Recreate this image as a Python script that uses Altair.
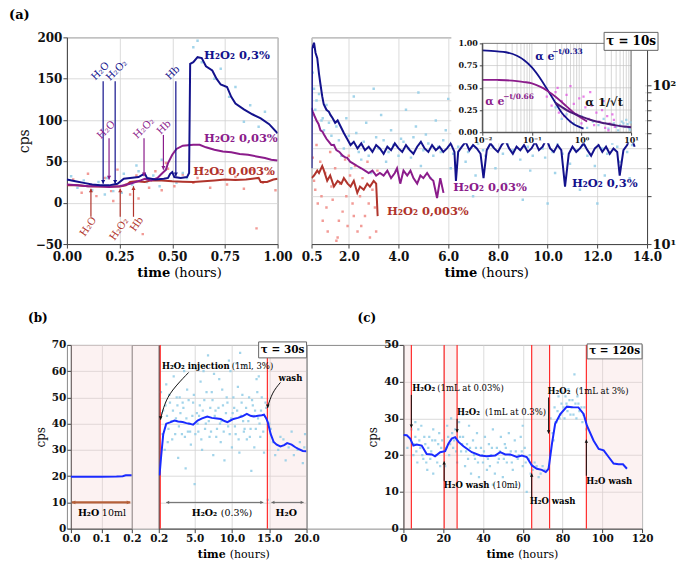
import altair as alt
import pandas as pd

FONT = "DejaVu Serif"
NAVY = "#13128c"
PURPLE = "#8b1c8b"
BRICK = "#b0342c"
LBLUE = "#92cde6"
LRED = "#f08a84"
MAGENTA = "#e04ae0"
TAIL = "#4b1a7a"
BRIGHT = "#1a2bff"
REDLINE = "#ff2b2b"
PINK = "#f5cccc"
GRID = "#d2d2d2"
BROWN = "#b5603a"

ONE = pd.DataFrame({"k": [0]})

# ---------------- data: panel (a) left ----------------
a_blue_x = [0, 0.04, 0.08, 0.12, 0.16, 0.2, 0.24, 0.27, 0.3, 0.34, 0.36, 0.37, 0.38, 0.42, 0.46, 0.48, 0.49, 0.5, 0.51, 0.54, 0.57, 0.58, 0.585, 0.6, 0.62, 0.64, 0.66, 0.69, 0.71, 0.73, 0.76, 0.78, 0.8, 0.84, 0.88, 0.92, 0.96, 1.0]
a_blue_y = [28, 26, 24, 22, 21, 21, 23, 29, 30, 31, 34, 35, 30, 28, 29, 30, 35, 37, 31, 30, 31, 36, 168, 170, 176, 175, 165, 160, 150, 143, 140, 128, 120, 113, 107, 102, 95, 84]
a_purp_x = [0, 0.05, 0.1, 0.15, 0.2, 0.25, 0.3, 0.35, 0.37, 0.4, 0.43, 0.45, 0.47, 0.48, 0.5, 0.52, 0.55, 0.6, 0.63, 0.66, 0.7, 0.74, 0.78, 0.82, 0.86, 0.9, 0.94, 0.97, 1.0]
a_purp_y = [22, 21, 20, 20, 19, 20, 23, 27, 29, 27, 30, 35, 40, 48, 58, 65, 69, 70, 70, 67, 64, 62, 61, 59, 58, 56, 54, 52, 51]
a_red_x = [0, 0.05, 0.1, 0.15, 0.2, 0.25, 0.28, 0.3, 0.33, 0.37, 0.4, 0.45, 0.5, 0.55, 0.6, 0.65, 0.7, 0.75, 0.8, 0.85, 0.88, 0.91, 0.92, 0.95, 0.98, 1.0]
a_red_y = [21, 21, 20, 19.5, 19.5, 19.5, 21, 25, 26, 25, 27, 27, 26, 25.5, 25, 26, 27, 28, 27.5, 28, 29, 30, 25, 25, 28, 29]
a_bdots = [(0.02, 32), (0.05, 18), (0.08, 27), (0.12, 15), (0.15, 25), (0.19, 30), (0.22, 14), (0.27, 35), (0.31, 22), (0.34, 38),
           (0.38, 25), (0.41, 33), (0.44, 20), (0.47, 40), (0.52, 24), (0.55, 36), (0.57, 30), (0.6, 188), (0.62, 196), (0.64, 170),
           (0.67, 180), (0.7, 150), (0.73, 162), (0.77, 128), (0.8, 140), (0.84, 98), (0.87, 118), (0.91, 92), (0.94, 110), (0.97, 80),
           (0.33, 45), (0.45, 52), (0.18, 10), (0.26, 12), (0.58, 70)]
a_rdots = [(0.03, 28), (0.07, 12), (0.1, 35), (0.14, 8), (0.18, 30), (0.21, 14), (0.24, 40), (0.28, 22), (0.3, 10), (0.33, 33),
           (0.36, -38), (0.39, 18), (0.42, 38), (0.45, 15), (0.48, 41), (0.51, 20), (0.55, 34), (0.6, 24), (0.64, 42), (0.68, 18),
           (0.72, 36), (0.76, 22), (0.8, 31), (0.84, 17), (0.88, 40), (0.9, -31), (0.93, 24), (0.96, 35), (0.99, 15), (0.34, 5),
           (0.47, 48), (0.22, 2), (0.62, 30)]
# arrows: x, y_from, y_to, label, label_x, label_y
a_arrows_blue = [(0.172, 147, 23, "H₂O", 0.159, 159), (0.229, 147, 23, "H₂O₂", 0.236, 160), (0.517, 147, 32, "Hb", 0.503, 157)]
a_arrows_purp = [(0.20, 78, 28, "H₂O", 0.187, 88), (0.366, 78, 32, "H₂O₂", 0.366, 90), (0.458, 82, 40, "Hb", 0.461, 91)]
a_arrows_red = [(0.114, -17, 17, "H₂O", 0.101, -29), (0.253, -17, 17, "H₂O₂", 0.248, -32), (0.316, -17, 20, "Hb", 0.332, -26)]

# ---------------- data: panel (a) right ----------------
r_blue_x = [0.5, 0.52, 0.6, 0.66, 0.73, 0.8, 0.86, 0.93, 0.99, 1.1, 1.2, 1.26, 1.35, 1.45, 1.55, 1.67, 1.8, 1.93, 2.07, 2.2, 2.35, 2.5, 2.65, 2.8, 2.95, 3.1, 3.25, 3.4, 3.55, 3.7, 3.85, 4.0, 4.15, 4.3, 4.45, 4.6, 4.75, 4.9, 5.05, 5.2, 5.35, 5.5, 5.65, 5.8, 5.95, 6.1, 6.25, 6.31, 6.4, 6.55, 6.7, 6.85, 7.0, 7.15, 7.3, 7.42, 7.55, 7.7, 7.85, 8.0, 8.15, 8.3, 8.45, 8.6, 8.75, 8.9, 9.05, 9.2, 9.35, 9.5, 9.65, 9.8, 9.95, 10.1, 10.25, 10.4, 10.55, 10.7, 10.85, 11.0, 11.15, 11.3, 11.45, 11.6, 11.75, 11.9, 12.05, 12.2, 12.35, 12.5, 12.65, 12.8, 12.9, 13.05, 13.2, 13.35, 13.5]
r_blue_y = [30, 170, 185, 160, 148, 118, 101, 85, 76, 70, 68, 65, 62, 58, 60, 55, 50, 46, 42, 44, 40, 43, 39, 41, 38, 42, 40, 37, 41, 39, 43, 40, 38, 42, 39, 37, 41, 44, 40, 38, 42, 39, 41, 38, 40, 43, 38, 25, 38, 41, 44, 39, 42, 40, 37, 26, 39, 43, 40, 38, 42, 45, 40, 37, 41, 39, 42, 38, 40, 44, 39, 41, 46, 40, 38, 42, 39, 23, 37, 41, 38, 40, 43, 39, 36, 40, 42, 38, 41, 37, 40, 38, 27, 39, 42, 48, 41]
r_purp_x = [0.5, 0.55, 0.62, 0.7, 0.78, 0.86, 0.94, 1.0, 1.1, 1.2, 1.3, 1.4, 1.5, 1.62, 1.75, 1.87, 1.93, 2.05, 2.2, 2.34, 2.5, 2.65, 2.8, 2.95, 3.1, 3.25, 3.4, 3.55, 3.7, 3.85, 3.94, 4.07, 4.2, 4.35, 4.48, 4.6, 4.75, 4.88, 5.0, 5.15, 5.28, 5.4, 5.55, 5.68, 5.81]
r_purp_y = [72, 68, 64, 60, 57, 52, 51, 49, 46, 44, 42, 42, 39, 38, 36, 35, 35, 33, 32, 31, 30, 29, 28, 29, 27, 28, 27, 29, 26, 28, 30, 24, 29, 27, 29, 26, 24, 27, 26, 28, 26, 25, 19.5, 26, 21]
r_red_x = [0.5, 0.6, 0.73, 0.8, 0.93, 1.0, 1.13, 1.25, 1.4, 1.55, 1.7, 1.8, 1.95, 2.07, 2.2, 2.34, 2.45, 2.6, 2.74, 2.85, 3.0, 3.1, 3.16]
r_red_y = [26, 27, 29, 28, 31, 29, 25, 27, 23, 25, 24, 26, 24, 23, 25, 21, 23, 22, 24, 23, 25, 24, 15]
r_bdots = [(0.55, 120), (0.6, 95), (0.7, 80), (0.8, 88), (0.9, 60), (1.0, 52), (1.1, 75), (1.3, 48), (1.5, 55), (1.7, 36), (1.9, 62),
           (2.1, 30), (2.3, 50), (2.5, 34), (2.7, 58), (2.9, 28), (3.1, 47), (3.3, 65), (3.5, 33), (3.7, 52), (3.9, 29), (4.1, 46),
           (4.3, 70), (4.5, 35), (4.7, 55), (4.9, 31), (5.1, 49), (5.3, 26), (5.5, 60), (5.7, 38), (5.9, 52), (6.1, 30), (6.3, 45),
           (6.5, 72), (6.7, 33), (6.9, 55), (7.1, 27), (7.3, 48), (7.5, 36), (7.7, 62), (7.9, 30), (8.1, 50), (8.3, 24), (8.5, 44),
           (8.7, 66), (8.9, 34), (9.1, 52), (9.3, 29), (9.5, 47), (9.7, 75), (9.9, 35), (10.1, 54), (10.3, 28), (10.5, 46), (10.7, 62),
           (10.9, 32), (11.1, 50), (11.3, 22), (11.5, 44), (11.7, 58), (11.9, 31), (12.1, 53), (12.3, 27), (12.5, 48), (12.7, 64),
           (12.9, 33), (13.1, 50), (13.3, 26), (13.5, 45), (2.2, 85), (4.8, 90), (7.0, 20), (9.0, 19), (12.0, 18), (3.0, 95),
           (6.0, 82), (8.0, 78), (10.0, 18), (13.0, 70),
           (0.65, 70), (0.95, 62), (1.2, 58), (1.4, 42), (1.6, 45), (1.8, 40), (2.0, 48), (2.4, 38), (2.6, 44), (2.8, 36), (3.2, 40),
           (3.4, 45), (3.6, 38), (3.8, 42), (4.0, 36), (4.2, 44), (4.4, 40), (4.6, 47), (5.0, 39), (5.2, 43), (5.4, 36), (5.6, 41),
           (5.8, 45), (6.2, 37), (6.4, 41), (6.6, 46), (6.8, 38), (7.2, 43), (7.4, 39), (7.6, 45), (7.8, 41), (8.2, 37), (8.4, 43),
           (8.6, 39), (8.8, 46), (9.2, 41), (9.4, 36), (9.6, 44), (9.8, 40), (10.2, 38), (10.4, 43), (10.6, 37), (10.8, 45),
           (11.2, 39), (11.4, 42), (11.6, 36), (11.8, 44), (12.2, 40), (12.4, 37), (12.6, 43), (12.8, 41), (13.2, 38), (13.4, 42)]
r_rdots = [(0.55, 35), (0.65, 22), (0.75, 18), (0.85, 33), (0.95, 14), (1.05, 28), (1.15, 12), (1.25, 38), (1.35, 19), (1.45, 30),
           (1.55, 11), (1.65, 24), (1.75, 16), (1.85, 34), (1.95, 13), (2.05, 27), (2.15, 18), (2.25, 31), (2.35, 12), (2.45, 20),
           (2.55, 26), (2.65, 15), (2.75, 33), (2.85, 11), (2.95, 22), (3.05, 17), (3.15, 29), (0.7, 42), (1.5, 10.5), (2.0, 36),
           (0.6, 25), (0.9, 20), (1.1, 17), (1.3, 23), (1.6, 14), (1.9, 20), (2.2, 15), (2.5, 13), (2.8, 18), (3.1, 12)]

# inset
i_blue_t = [0.01, 0.02, 0.03, 0.05, 0.07, 0.1, 0.15, 0.2, 0.3, 0.4, 0.5, 0.7, 0.9, 1.1]
i_blue_v = [0.92, 0.91, 0.9, 0.86, 0.81, 0.73, 0.6, 0.49, 0.33, 0.22, 0.16, 0.09, 0.06, 0.04]
i_purp_t = [0.01, 0.02, 0.03, 0.05, 0.07, 0.1, 0.15, 0.2, 0.3, 0.4, 0.5, 0.7, 1.0, 1.3]
i_purp_v = [0.59, 0.588, 0.585, 0.575, 0.565, 0.55, 0.51, 0.47, 0.4, 0.34, 0.29, 0.22, 0.16, 0.12]
i_tail_t = [0.3, 0.5, 0.7, 1.0, 1.5, 2.0, 3.0, 5.0, 7.0, 10.0]
i_tail_v = [0.33, 0.25, 0.21, 0.175, 0.14, 0.12, 0.1, 0.077, 0.065, 0.057]
i_mdots = [(0.2, 0.4), (0.25, 0.3), (0.3, 0.45), (0.35, 0.22), (0.4, 0.35), (0.45, 0.18), (0.5, 0.42), (0.55, 0.25), (0.6, 0.12),
           (0.7, 0.32), (0.8, 0.2), (0.9, 0.38), (1.0, 0.1), (1.2, 0.28), (1.4, 0.15), (1.6, 0.3), (1.8, 0.08), (2.0, 0.22),
           (2.3, 0.12), (2.6, 0.25), (3.0, 0.05), (3.3, 0.18), (3.7, 0.1), (4.2, 0.2), (4.7, 0.06), (0.33, 0.5), (0.6, 0.52),
           (1.1, 0.4), (1.5, 0.45), (2.8, 0.35), (3.5, 0.02), (4.5, 0.14)]
i_bdots = [(0.3, 0.28), (0.4, 0.15), (0.5, 0.2), (0.7, 0.1), (1.0, 0.18), (1.3, 0.05), (1.7, 0.12), (2.2, 0.08), (2.8, 0.15),
           (3.5, 0.04), (4.5, 0.1), (5.5, 0.02), (6.5, 0.12), (7.5, 0.06), (8.5, 0.09), (9.5, 0.03), (6.0, 0.08), (8.0, 0.14),
           (9.0, 0.05), (5.0, 0.06), (7.0, 0.1), (9.8, 0.11)]
i_grid_x = [0.01, 0.02, 0.03, 0.04, 0.05, 0.06, 0.07, 0.08, 0.09, 0.1, 0.2, 0.3, 0.4, 0.5, 0.6, 0.7, 0.8, 0.9, 1, 2, 3, 4, 5, 6, 7, 8, 9, 10]
i_grid_y = [0.25, 0.5, 0.75]

# ---------------- data: panel (b) ----------------
bl_x = [0, 0.05, 0.1, 0.15, 0.17, 0.18, 0.2]
bl_y = [19.8, 19.8, 19.8, 19.9, 20.0, 20.3, 20.3]
br_x = [0.3, 0.5, 0.8, 1.2, 1.7, 2.3, 2.8, 3.4, 3.9, 4.3, 4.8, 5.4, 6.0, 6.7, 7.3, 8.0, 8.5, 9.0, 9.4, 9.8, 10.2, 10.8, 11.4, 12.0, 12.5, 12.9, 13.5, 14.0, 14.3, 14.6, 14.8, 15.2, 15.6, 16.0, 16.5, 17.0, 17.4, 18.0, 18.5, 18.9, 19.5, 20.0]
br_y = [20.3, 27, 36, 40, 40.5, 41.2, 40.8, 40.6, 40.2, 40, 39.6, 41.2, 42, 42.7, 42.2, 42, 41.8, 41, 40.6, 41.2, 41.8, 42.2, 42.8, 43.7, 43, 42.7, 43, 43.2, 43.4, 42, 40.6, 36, 33, 32, 31.3, 31.8, 32.6, 32, 31, 30.4, 29.6, 29.5]
br_dots = [(0.5, 52), (0.8, 45), (1.0, 30), (1.2, 55), (1.5, 38), (1.7, 48), (2.0, 34), (2.2, 58), (2.5, 42), (2.8, 27), (3.0, 50),
           (3.3, 36), (3.5, 46), (3.8, 23), (4.0, 53), (4.3, 40), (4.5, 32), (4.8, 48), (5.0, 17), (5.3, 44), (5.5, 37), (5.8, 56),
           (6.0, 30), (6.3, 49), (6.5, 40), (6.8, 66), (7.0, 35), (7.3, 52), (7.5, 28), (7.8, 45), (8.0, 38), (8.3, 57), (8.5, 33),
           (8.8, 47), (9.0, 26), (9.3, 50), (9.5, 39), (9.8, 60), (10.0, 31), (10.3, 46), (10.5, 36), (10.8, 54), (11.0, 29),
           (11.3, 48), (11.5, 41), (11.8, 62), (12.0, 34), (12.3, 50), (12.5, 38), (12.8, 47), (13.0, 31), (13.3, 57), (13.5, 42),
           (13.8, 35), (14.0, 50), (14.3, 29), (14.6, 46), (15.2, 38), (15.8, 28), (16.5, 35), (17.2, 26), (18.0, 37), (18.8, 30),
           (19.5, 25), (19.8, 36), (1.3, 43), (2.7, 47), (4.1, 37), (5.6, 43), (7.1, 46), (8.6, 41), (10.1, 44), (11.6, 37),
           (13.1, 45), (6.2, 60), (9.6, 64), (12.6, 22), (3.6, 60), (0.9, 62), (14.8, 11),
           (0.6, 44), (0.7, 36), (1.1, 47), (1.4, 33), (1.6, 51), (1.9, 41), (2.1, 45), (2.4, 36), (2.6, 50), (2.9, 39), (3.1, 44),
           (3.4, 48), (3.7, 35), (3.9, 42), (4.2, 49), (4.4, 37), (4.7, 43), (4.9, 51), (5.1, 36), (5.4, 40), (5.7, 47), (5.9, 34),
           (6.1, 45), (6.4, 38), (6.6, 52), (6.9, 41), (7.2, 37), (7.4, 49), (7.7, 43), (7.9, 35), (8.2, 46), (8.4, 40), (8.7, 53),
           (8.9, 37), (9.2, 44), (9.4, 48), (9.7, 36), (9.9, 42), (10.2, 50), (10.4, 39), (10.7, 45), (10.9, 34), (11.2, 43),
           (11.4, 51), (11.7, 38), (11.9, 46), (12.2, 41), (12.4, 35), (12.7, 49), (12.9, 43), (13.2, 38), (13.4, 52), (13.7, 40),
           (13.9, 45), (14.2, 37), (14.5, 48), (15.5, 33), (16.2, 30), (16.9, 34), (17.6, 31), (18.3, 28), (19.1, 33), (19.7, 31),
           (15.0, 40), (2.3, 62), (5.2, 61), (7.6, 59), (10.6, 63), (13.6, 58), (11.1, 67)]
b_events = [0.4, 14.75]
b_pink = [(14.75, 20)]
b_inj_x = [4.2, 1.84, 0.95, 0.45]
b_inj_y = [59.5, 52.5, 47.4, 42]
b_wash_x = [16.5, 15.4, 14.8]
b_wash_y = [55.7, 51.9, 46.5]

# ---------------- data: panel (c) ----------------
c_x = [0, 1.7, 3.4, 5, 6.7, 9.2, 11.7, 14.3, 15.9, 18.5, 21, 22.6, 24.3, 26, 27.7, 30.2, 34.4, 38.6, 41.9, 46.1, 48.7, 51.2, 53.7, 57, 59.6, 62, 64.6, 67.1, 69.6, 71.6, 73, 74.7, 76.3, 78.9, 82.2, 85.6, 88, 90.6, 92.3, 95.6, 98.2, 100.7, 103.2, 105.7, 108.2, 110.4, 112.4]
c_y = [25.5, 25.4, 24.5, 22.6, 22.9, 22.6, 20.3, 20.2, 19.7, 20.8, 21.1, 23.1, 24.5, 24.9, 23.6, 22.4, 20.8, 19.9, 19.7, 19.9, 20.8, 20.2, 20.2, 19.5, 19.9, 19.5, 17.2, 16.3, 16.0, 15.4, 16.3, 23.1, 28.5, 31.2, 33.2, 33.0, 33.0, 31.2, 28.0, 24.0, 21.7, 21.3, 19.5, 17.7, 17.5, 17.5, 16.3]
c_dots = [(4, 27), (5, 20), (6, 25), (7, 18), (8, 24), (9, 28), (10, 19), (11, 23), (12, 16), (13, 25), (14, 21), (15, 15), (16, 24),
          (17, 18), (18, 26), (19, 22), (21, 17), (22, 28), (23, 20), (24, 30), (25, 22), (26, 27), (27, 18), (28, 29), (29, 21),
          (30, 25), (31, 17), (32, 23), (33, 28), (34, 15), (35, 24), (36, 19), (37, 26), (38, 14), (39, 22), (40, 18), (41, 25),
          (42, 16), (43, 23), (44, 20), (45, 27), (46, 15), (47, 22), (48, 19), (49, 25), (50, 14), (51, 23), (52, 18), (53, 26),
          (54, 21), (55, 16), (56, 24), (57, 12), (58, 20), (59, 25), (60, 17), (61, 22), (62, 10), (63, 19), (64, 15), (66, 18),
          (68, 14), (70, 17), (74, 30), (75, 26), (76, 33), (77, 29), (78, 36), (79, 31), (80, 37), (81, 30), (82, 34), (83, 38),
          (84, 31), (85, 35), (86, 42), (87, 30), (88, 34), (89, 38), (90, 29), (91, 33), (92, 27), (2, 22), (6, 29), (15, 27),
          (30, 31), (45, 12), (60, 28),
          (5.5, 23), (6.5, 21), (7.5, 27), (8.5, 22), (9.5, 20), (10.5, 25), (11.5, 18), (12.5, 22), (13.5, 19), (14.5, 24),
          (16.5, 20), (17.5, 23), (18.5, 17), (19.5, 24), (21.5, 22), (22.5, 25), (23.5, 23), (24.5, 26), (25.5, 24), (26.5, 21),
          (28.5, 25), (29.5, 23), (31.5, 21), (32.5, 19), (33.5, 22), (35.5, 20), (36.5, 22), (37.5, 18), (39.5, 20), (40.5, 21),
          (42.5, 19), (43.5, 17), (44.5, 22), (46.5, 20), (47.5, 18), (48.5, 21), (50.5, 19), (51.5, 22), (53.5, 20), (54.5, 18),
          (56.5, 21), (57.5, 19), (59.5, 21), (61.5, 18), (63.5, 20), (65, 16), (67, 17), (69, 15), (71, 16), (75.5, 24),
          (76.5, 29), (77.5, 32), (78.5, 30), (79.5, 34), (80.5, 33), (81.5, 36), (82.5, 32), (83.5, 35), (84.5, 33), (85.5, 31),
          (86.5, 34), (87.5, 36), (88.5, 32), (89.5, 33), (90.5, 31), (91.5, 30)]
c_events = [4, 20.5, 27, 64.5, 73.5, 92]
c_pink = [(0, 4), (20.5, 27), (64.5, 73.5), (92, 120)]
# arrows: x, y_from, y_to
c_arrows = [(4, 36.4, 27.5), (27, 29.9, 26.2), (20.5, 13, 18.3), (64.5, 8.5, 15), (73, 35.7, 25.9), (92, 14.4, 24.2)]
# labels: bold part, normal part, x, y, dx for normal part
c_labels = [("H₂O₂", "(1mL at 0.03%)", 4.5, 38.3, 25), ("H₂O₂", "(1mL at 0.3%)", 27, 31.8, 28),
            ("H₂O wash", "(10ml)", 20.3, 12, 49), ("H₂O wash", "", 63.5, 7.6, 0),
            ("H₂O₂", "(1mL at 3%)", 72.5, 37.5, 28), ("H₂O wash", "", 92, 13, 0)]

DOWN = "M0,0L-0.55,-1L0.55,-1Z"
UP = "M0,0L-0.55,1L0.55,1Z"
RIGHT = "M0,0L-1,-0.55L-1,0.55Z"
LEFT = "M0,0L1,-0.55L1,0.55Z"


class Panel:
    def __init__(self, xs, ys, xa, ya):
        self.xs, self.ys, self.xa, self.ya = xs, ys, xa, ya

    def X(self, f="x"):
        return alt.X(f"{f}:Q", scale=self.xs, axis=self.xa)

    def Y(self, f="y"):
        return alt.Y(f"{f}:Q", scale=self.ys, axis=self.ya)


def line(p, xs, ys, color, width=2.0, interp="linear"):
    df = pd.DataFrame({"x": xs, "y": ys})
    return alt.Chart(df).mark_line(color=color, strokeWidth=width, interpolate=interp, clip=True).encode(x=p.X(), y=p.Y())


def dots(p, pts, color, size=6, opacity=0.85):
    df = pd.DataFrame(pts, columns=["x", "y"])
    return alt.Chart(df).mark_square(color=color, size=size, opacity=opacity, clip=True).encode(x=p.X(), y=p.Y())


def dtext(p, x, y, s, color="#000", size=11, weight="bold", align="left", angle=0, dx=0):
    df = pd.DataFrame({"x": [x], "y": [y]})
    return alt.Chart(df).mark_text(text=s, color=color, fontSize=size, fontWeight=weight, align=align,
                                   baseline="middle", angle=angle, dx=dx, font=FONT).encode(x=p.X(), y=p.Y())


def ptext(px, py, s, size=11, weight="bold", align="left", color="#000"):
    return alt.Chart(ONE).mark_text(text=s, color=color, fontSize=size, fontWeight=weight, align=align,
                                    baseline="middle", font=FONT).encode(x=alt.value(px), y=alt.value(py))


def prect(x1, x2, y1, y2, fill="white", stroke="", opacity=1.0, fill_opacity=1.0, sw=1.0):
    kw = dict(fill=fill, opacity=opacity, fillOpacity=fill_opacity)
    if stroke:
        kw.update(stroke=stroke, strokeWidth=sw)
    return alt.Chart(ONE).mark_rect(**kw).encode(x=alt.value(x1), x2=alt.value(x2), y=alt.value(y1), y2=alt.value(y2))


def varrow(p, x, y1, y2, color, width=1.2, head=55):
    df = pd.DataFrame({"x": [x], "y1": [y1], "y2": [y2]})
    base = alt.Chart(df)
    r = base.mark_rule(color=color, strokeWidth=width).encode(x=p.X(), y=p.Y("y1"), y2=alt.Y2("y2:Q"))
    h = base.mark_point(shape=DOWN if y2 < y1 else UP, filled=True, color=color, size=head, opacity=1).encode(x=p.X(), y=p.Y("y2"))
    return [r, h]


def harrow(p, x1, x2, y, color, width=1.0, head=45):
    df = pd.DataFrame({"x1": [x1], "x2": [x2], "y": [y]})
    base = alt.Chart(df)
    r = base.mark_rule(color=color, strokeWidth=width).encode(x=p.X("x1"), x2=alt.X2("x2:Q"), y=p.Y())
    hl = base.mark_point(shape=LEFT, filled=True, color=color, size=head, opacity=1).encode(x=p.X("x1"), y=p.Y())
    hr = base.mark_point(shape=RIGHT, filled=True, color=color, size=head, opacity=1).encode(x=p.X("x2"), y=p.Y())
    return [r, hl, hr]


def xbands(p, spans, h):
    df = pd.DataFrame(spans, columns=["x", "x2"])
    return alt.Chart(df).mark_rect(fill=PINK, opacity=0.25).encode(x=p.X(), x2=alt.X2("x2:Q"), y=alt.value(0), y2=alt.value(h))


def vrules(p, xs, color=REDLINE, width=1.2):
    return alt.Chart(pd.DataFrame({"x": xs})).mark_rule(color=color, strokeWidth=width).encode(x=p.X())


def taubox(x1, x2, y1, y2, s, size):
    return [prect(x1, x2, y1, y2, fill="white", stroke="#666", sw=1.0),
            ptext((x1 + x2) / 2, (y1 + y2) / 2, s, size=size, align="center")]


def xtitle(cx, y, size):
    return [ptext(cx - 2, y, "time", size=size, weight="bold", align="right"),
            ptext(cx + 2, y, "(hours)", size=size, weight="normal", align="left")]


def spacer(w, h):
    return alt.Chart(ONE).mark_rect(opacity=0).encode(
        x=alt.value(0), x2=alt.value(w), y=alt.value(0), y2=alt.value(1)).properties(width=w, height=h)


# ---------------- panel (a) left ----------------
W_AL, H_A = 211, 207
pA = Panel(alt.Scale(domain=[0, 1], nice=False, zero=False),
           alt.Scale(domain=[-50, 200], nice=False, zero=False),
           alt.Axis(values=[0, 0.25, 0.5, 0.75, 1], format=".2f", title=None, labelPadding=3),
           alt.Axis(values=[-50, 0, 50, 100, 150, 200], title="cps", titleFontWeight="normal", titleFontSize=14))
aL_layers = [dots(pA, a_rdots, LRED), dots(pA, a_bdots, LBLUE),
             line(pA, a_red_x, a_red_y, BRICK), line(pA, a_purp_x, a_purp_y, PURPLE), line(pA, a_blue_x, a_blue_y, NAVY)]
for arrows, col, ang in [(a_arrows_blue, NAVY, 315), (a_arrows_purp, PURPLE, 315), (a_arrows_red, BRICK, 305)]:
    for (x, y1, y2, lab, lx, ly) in arrows:
        aL_layers += varrow(pA, x, y1, y2, col)
        aL_layers.append(dtext(pA, lx, ly, lab, color=col, size=10, weight="normal", align="center", angle=ang))
aL_layers += [dtext(pA, 0.651, 177, "H₂O₂ 0,3%", color=NAVY, size=11.5),
              dtext(pA, 0.651, 77.6, "H₂O₂ 0,03%", color=PURPLE, size=11.5),
              dtext(pA, 0.60, 37, "H₂O₂ 0,003%", color=BRICK, size=11.5)]
aL_layers += xtitle(W_AL / 2, 236, 13)
aL_layers.append(ptext(-58, -22, "(a)", size=13))
aL = alt.layer(*aL_layers).properties(width=W_AL, height=H_A)

# ---------------- panel (a) right ----------------
W_AR = 336
pR = Panel(alt.Scale(domain=[0.5, 14], nice=False, zero=False),
           alt.Scale(type="log", domain=[10, 200], nice=False),
           alt.Axis(values=[0.5, 2, 4, 6, 8, 10, 12, 14], format=".1f", title=None, labelPadding=3),
           alt.Axis(orient="right", values=[10, 20, 30, 40, 50, 60, 70, 80, 90, 100, 200],
                    labelExpr="datum.value == 10 ? '10¹' : (datum.value == 100 ? '10²' : '')",
                    title=None, labelFontSize=13))
main_layers = [dots(pR, r_bdots, LBLUE), dots(pR, r_rdots, LRED),
               line(pR, r_red_x, r_red_y, BRICK), line(pR, r_purp_x, r_purp_y, PURPLE), line(pR, r_blue_x, r_blue_y, NAVY),
               dtext(pR, 6.2, 22.5, "H₂O₂ 0,03%", color=PURPLE, size=11.5),
               dtext(pR, 10.98, 23.8, "H₂O₂ 0,3%", color=NAVY, size=11.5),
               dtext(pR, 3.54, 16, "H₂O₂ 0,003%", color=BRICK, size=11.5)]
main_layers += xtitle(W_AR / 2, 236, 13)
main = alt.layer(*main_layers)

pI = Panel(alt.Scale(type="log", domain=[0.01, 10], range=[171, 320], nice=False),
           alt.Scale(domain=[0, 1], range=[95, 6], nice=False, zero=False),
           alt.Axis(orient="bottom", offset=-112, values=[0.01, 0.1, 1, 10],
                    labelExpr="datum.value < 0.05 ? '10⁻²' : (datum.value < 0.5 ? '10⁻¹' : (datum.value < 5 ? '10⁰' : '10¹'))",
                    title=None, zindex=2, labelFontSize=8, tickSize=3, labelPadding=1, grid=False),
           alt.Axis(orient="left", offset=-171, values=[0, 0.25, 0.5, 0.75, 1], format=".2f",
                    title=None, zindex=2, labelFontSize=8, tickSize=3, labelPadding=2, grid=False))
inset_layers = [prect(140, 334, -1, 106, fill="white"),
                alt.Chart(pd.DataFrame({"x": i_grid_x})).mark_rule(color="#c4c4c4", strokeWidth=0.7).encode(
                    x=pI.X(), y=alt.value(6), y2=alt.value(95)),
                alt.Chart(pd.DataFrame({"y": i_grid_y})).mark_rule(color="#c4c4c4", strokeWidth=0.7).encode(
                    y=pI.Y(), x=alt.value(171), x2=alt.value(320)),
                prect(171, 320, 6, 95, fill="white", stroke="#555", fill_opacity=0, sw=0.8),
                dots(pI, i_bdots, LBLUE, size=5), dots(pI, i_mdots, MAGENTA, size=5, opacity=0.7),
                line(pI, i_blue_t, i_blue_v, NAVY, 1.8, "monotone"),
                line(pI, i_purp_t, i_purp_v, PURPLE, 1.8, "monotone"),
                line(pI, i_tail_t, i_tail_v, TAIL, 2.0, "monotone"),
                ptext(224, 20, "α e", size=11, color=NAVY),
                ptext(241, 15, "−t/0.33", size=7.5, color=NAVY),
                ptext(174, 65, "α e", size=11, color=PURPLE),
                ptext(192, 60, "−t/0.66", size=7.5, color=PURPLE),
                ptext(274, 66, "α 1/√t", size=11.5, color="#111")]
inset_layers += taubox(293, 347, -5, 13, "τ = 10s", 12)
inset = alt.layer(*inset_layers)
aR = alt.layer(main, inset).resolve_scale(x="independent", y="independent").properties(width=W_AR, height=H_A)

# ---------------- panel (b) ----------------
H_B = 184
W_BL, W_BR = 61, 148
ysB = alt.Scale(domain=[0, 70], nice=False)
pBL = Panel(alt.Scale(domain=[0, 0.2], nice=False, zero=False), ysB,
            alt.Axis(values=[0, 0.1, 0.2], format=".1f", title=None, labelFontSize=10.5),
            alt.Axis(values=[0, 10, 20, 30, 40, 50, 60, 70], title="cps", titleFontWeight="normal", titleFontSize=12, labelFontSize=10.5))
bL_layers = [prect(0, W_BL, 0, H_B, fill=PINK, opacity=0.25),
             line(pBL, bl_x, bl_y, BRIGHT, 2.0)]
bL_layers += harrow(pBL, 0.003, 0.195, 10, BROWN, width=2.2, head=50)
bL_layers += [ptext(7, 168, "H₂O", size=9.5, weight="bold"), ptext(31, 168, "10ml", size=9.5, weight="normal"),
              ptext(-43, -27, "(b)", size=12)]
bL = alt.layer(*bL_layers).properties(width=W_BL, height=H_B)

pBR = Panel(alt.Scale(domain=[0.2, 20], nice=False, zero=False), ysB,
            alt.Axis(values=[0.2, 5, 10, 15, 20], format=".1f", title=None, labelFontSize=10.5),
            alt.Axis(values=[0, 10, 20, 30, 40, 50, 60, 70], labels=False, ticks=False, title=None))
bR_layers = [prect(-27, 0, 0, H_B, fill=PINK, opacity=0.25), xbands(pBR, b_pink, H_B),
             dots(pBR, br_dots, LBLUE, size=5), vrules(pBR, b_events),
             line(pBR, br_x, br_y, BRIGHT, 2.0),
             line(pBR, b_inj_x, b_inj_y, "#111", 1.0, "basis"),
             line(pBR, b_wash_x, b_wash_y, "#111", 1.0, "basis")]
bR_layers += varrow(pBR, 0.45, 42.5, 41.5, "#111", width=1.0, head=45)
bR_layers += varrow(pBR, 14.8, 47, 46, "#111", width=1.0, head=45)
bR_layers += harrow(pBR, 1.2, 14.2, 10, "#666", width=1.0, head=35)
bR_layers += harrow(pBR, 15.3, 19.6, 10, "#666", width=1.0, head=35)
bR_layers += [ptext(71, 21, "H₂O₂ injection", size=8.5, weight="bold", align="right"),
              ptext(73, 21, "(1ml, 3%)", size=8.5, weight="normal"),
              ptext(120, 33, "wash", size=8.5, weight="bold"),
              ptext(33, 168, "H₂O₂", size=9.5, weight="bold"), ptext(62, 168, "(0.3%)", size=9.5, weight="normal"),
              ptext(117, 168, "H₂O", size=9.5, weight="bold")]
bR_layers += taubox(100, 148, -3, 13, "τ = 30s", 10.5)
bR_layers += xtitle(69, 210, 11)
bR = alt.layer(*bR_layers).properties(width=W_BR, height=H_B)

# ---------------- panel (c) ----------------
W_C = 239
pC = Panel(alt.Scale(domain=[0, 120], nice=False, zero=False),
           alt.Scale(domain=[0, 50], nice=False),
           alt.Axis(values=[0, 20, 40, 60, 80, 100, 120], title=None, labelFontSize=10.5),
           alt.Axis(values=[0, 10, 20, 30, 40, 50], title="cps", titleFontWeight="normal", titleFontSize=12, labelFontSize=10.5))
c_layers = [xbands(pC, c_pink, H_B), dots(pC, c_dots, LBLUE, size=5), vrules(pC, c_events),
            line(pC, c_x, c_y, BRIGHT, 2.0)]
for (x, y1, y2) in c_arrows:
    c_layers += varrow(pC, x, y1, y2, "#111", width=1.0, head=40)
for (b, n, x, y, dx) in c_labels:
    c_layers.append(dtext(pC, x, y, b, size=8.5, weight="bold"))
    if n:
        c_layers.append(dtext(pC, x, y, n, size=8.5, weight="normal", dx=dx))
c_layers += taubox(184, 239, -1, 14, "τ = 120s", 10.5)
c_layers += xtitle(113, 210, 11)
c_layers.append(ptext(-46, -27, "(c)", size=12))
cC = alt.layer(*c_layers).properties(width=W_C, height=H_B)

top = alt.hconcat(aL, aR, spacing=34, bounds="flush")
bottom = alt.hconcat(spacer(4, H_B), bL, spacer(27, H_B), bR, spacer(97, H_B), cC, spacing=0, bounds="flush")

chart = alt.vconcat(top, bottom, spacing=30).properties(
    padding={"left": 0, "top": 0, "right": 0, "bottom": 0}
).configure_view(stroke="#8a8a8a", strokeWidth=1).configure_axis(
    labelFont=FONT, titleFont=FONT, labelFontWeight="bold", labelFontSize=12, titleFontSize=13,
    gridColor=GRID, gridWidth=0.8, domainColor="#444", tickColor="#444", tickSize=4, labelPadding=1,
    labelFlush=False, labelColor="#111", titleColor="#111", labelOverlap=False
)

chart.save("out.html", embed_options={"renderer": "svg", "actions": False})
